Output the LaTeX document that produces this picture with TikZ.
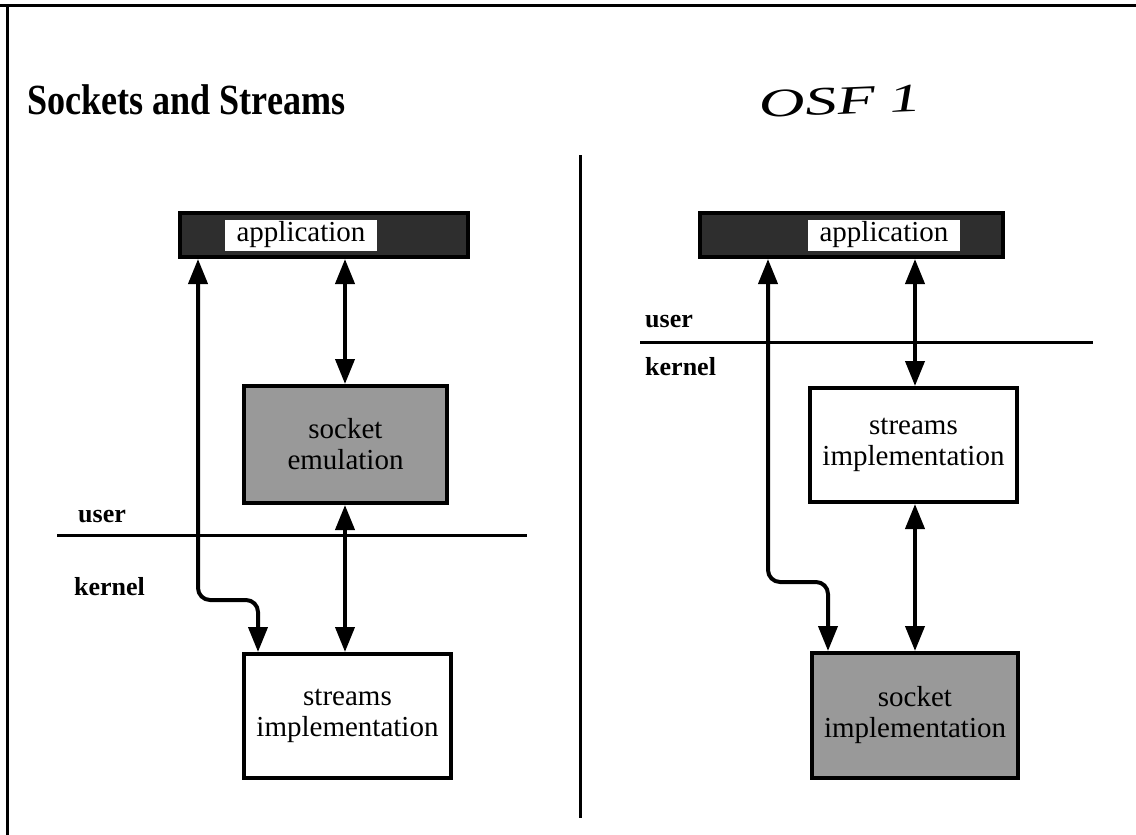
\documentclass[tikz,border=0pt]{standalone}
\usepackage{fontspec}
\setmainfont{Liberation Serif}
\usetikzlibrary{arrows.meta}
\begin{document}
\begin{tikzpicture}[x=1pt,y=-1pt,
  box/.style={draw=black,line width=4pt,rectangle,align=center,inner sep=0pt,
    font=\fontsize{29}{31}\selectfont},
  appbox/.style={box,fill=black!82,minimum height=44pt},
  greybox/.style={box,fill=black!40},
  whitebox/.style={box,fill=white},
  applabel/.style={fill=white,inner sep=0pt,minimum width=152pt,minimum height=31pt,
    font=\fontsize{29}{31}\selectfont},
  layer/.style={anchor=west,inner sep=0pt,font=\fontsize{26}{28}\selectfont\bfseries},
  conn/.style={line width=4pt,{Triangle[length=25pt,width=19pt]}-{Triangle[length=25pt,width=19pt]},rounded corners=12pt},
  rule/.style={line width=3pt}]
\useasboundingbox (0,0) rectangle (1136,835);
% frame
\draw[rule] (0,5) -- (1136,5);
\draw[rule] (7,4) -- (7,835);
% divider
\draw[rule] (580,155) -- (580,818);
% title
\node[anchor=base west,inner sep=0pt,xscale=0.84,font=\fontsize{43}{45}\selectfont\bfseries] (title) at (27,114) {Sockets and Streams};
\node[anchor=base west,inner sep=0pt,xscale=1.6,rotate=4,font=\fontsize{40}{42}\selectfont\itshape] (osf) at (760,118) {OSF\hspace{8pt}1};
% ---------- left panel ----------
\node[appbox,minimum width=288pt] (appL) at (324,235) {};
\node[applabel] (labL) at (301,235) {application};
\node[greybox,minimum width=203pt,minimum height=117pt] (sockL) at (345.5,444.5) {socket\\emulation};
\node[whitebox,minimum width=207pt,minimum height=124pt] (strL) at (347.5,716) {streams\\implementation};
\coordinate (lineLa) at (57,535);
\coordinate (lineLb) at (527,535);
\draw[rule] (lineLa) -- (lineLb);
\node[layer] (userL) at (78,516) {user};
\node[layer] (kernL) at (74,587) {kernel};
\coordinate (xa) at (198,0);
\coordinate (xb) at (258,0);
\coordinate (yc) at (0,600);
\coordinate (xm) at (345,0);
\draw[conn] (xa |- appL.south) -- (xa |- yc) -- (xb |- yc) -- (xb |- strL.north);
\draw[conn] (xm |- appL.south) -- (xm |- sockL.north);
\draw[conn] (xm |- sockL.south) -- (xm |- strL.north);
% ---------- right panel ----------
\node[appbox,minimum width=303pt] (appR) at (851.5,235) {};
\node[applabel] (labR) at (884,235) {application};
\node[whitebox,minimum width=207pt,minimum height=114pt] (strR) at (913.5,445) {streams\\implementation};
\node[greybox,minimum width=206pt,minimum height=125pt] (sockR) at (915,715.5) {socket\\implementation};
\coordinate (lineRa) at (640,342);
\coordinate (lineRb) at (1093,342);
\draw[rule] (lineRa) -- (lineRb);
\node[layer] (userR) at (645,321) {user};
\node[layer] (kernR) at (645,367) {kernel};
\coordinate (xra) at (768,0);
\coordinate (xrb) at (828,0);
\coordinate (yrc) at (0,582);
\coordinate (xrm) at (915,0);
\draw[conn] (xra |- appR.south) -- (xra |- yrc) -- (xrb |- yrc) -- (xrb |- sockR.north);
\draw[conn] (xrm |- appR.south) -- (xrm |- strR.north);
\draw[conn] (xrm |- strR.south) -- (xrm |- sockR.north);
\end{tikzpicture}
\end{document}
